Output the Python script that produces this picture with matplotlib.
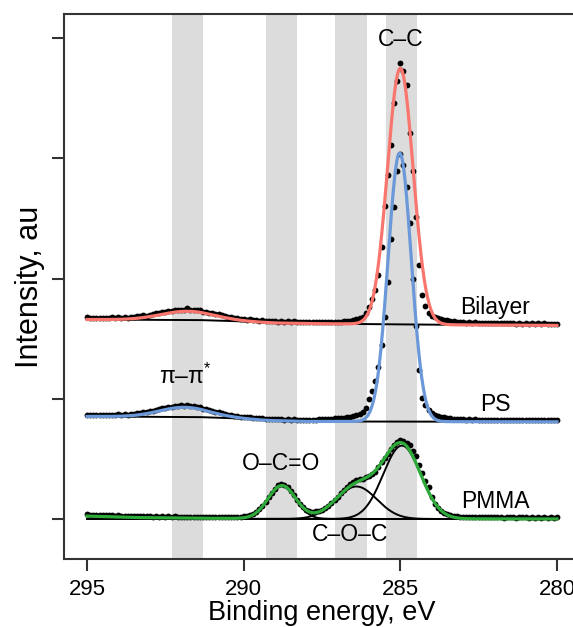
import numpy as np
import matplotlib
matplotlib.use("Agg")
import matplotlib.pyplot as plt

plt.rcParams['font.family'] = ['Liberation Sans', 'DejaVu Sans']
plt.rcParams['mathtext.fontset'] = 'custom'
plt.rcParams['mathtext.rm'] = 'Liberation Sans'

# C1s spectra, read every 0.1 eV from 295.0 down to 280.0 eV
energy = np.linspace(295.0, 280.0, 151)

pmma_counts = [
    .038, .034, .035, .032, .034, .031, .033, .029, .031, .028,
    .029, .025, .027, .024, .026, .023, .025, .022, .024, .021,
    .023, .020, .022, .020, .022, .019, .021, .018, .021, .018,
    .020, .017, .019, .017, .020, .016, .019, .016, .018, .016,
    .018, .015, .018, .016, .018, .015, .017, .016, .018, .019,
    .022, .026, .033, .044, .060, .084, .110, .144, .181, .219,
    .252, .280, .292, .285, .262, .232, .196, .160, .126, .097,
    .078, .066, .062, .063, .068, .077, .092, .110, .132, .158,
    .184, .212, .240, .265, .287, .305, .322, .330, .336, .345,
    .356, .370, .392, .430, .472, .510, .540, .578, .612, .640,
    .655, .650, .632, .612, .566, .520, .452, .385, .318, .262,
    .185, .127, .089, .068, .052, .040, .032, .026, .023, .020,
    .018, .016, .017, .015, .016, .014, .016, .014, .015, .013,
    .015, .013, .015, .012, .014, .013, .015, .012, .014, .013,
    .014, .012, .014, .011, .014, .012, .013, .011, .013, .012, .013]

ps_counts = [
    .060, .056, .059, .055, .060, .056, .058, .055, .059, .057,
    .062, .058, .063, .060, .066, .065, .072, .071, .079, .080,
    .088, .091, .100, .103, .112, .114, .122, .124, .131, .131,
    .136, .133, .137, .129, .130, .122, .120, .110, .107, .097,
    .094, .083, .080, .070, .069, .060, .060, .051, .050, .043,
    .043, .038, .038, .032, .033, .028, .029, .024, .025, .021,
    .023, .020, .022, .019, .021, .018, .020, .017, .019, .016,
    .018, .017, .019, .018, .021, .022, .024, .026, .027, .029,
    .031, .033, .035, .038, .041, .045, .053, .063, .080, .113,
    .190, .260, .340, .460, .640, .870, 1.160, 1.520, 1.790, 2.090,
    2.230, 2.140, 1.950, 1.650, 1.190, .800, .430, .200, .140, .095,
    .072, .060, .050, .043, .038, .033, .029, .026, .024, .022,
    .021, .019, .021, .017, .020, .016, .019, .016, .018, .015,
    .017, .014, .017, .013, .016, .014, .016, .012, .015, .014,
    .016, .013, .015, .012, .015, .013, .015, .012, .014, .013, .014]

bilayer_counts = [
    .064, .059, .062, .058, .063, .059, .062, .058, .064, .060,
    .065, .061, .066, .063, .070, .068, .074, .072, .081, .080,
    .088, .089, .097, .098, .107, .108, .117, .117, .125, .124,
    .130, .127, .140, .126, .130, .123, .122, .113, .113, .103,
    .101, .091, .090, .081, .079, .071, .070, .061, .060, .053,
    .053, .047, .048, .042, .043, .038, .039, .034, .035, .031,
    .033, .030, .032, .029, .032, .028, .031, .027, .030, .027,
    .029, .026, .028, .025, .028, .025, .027, .025, .027, .026,
    .028, .029, .031, .034, .038, .042, .048, .057, .070, .098,
    .150, .220, .290, .420, .650, .990, 1.250, 1.500, 1.850, 2.030,
    2.180, 2.110, 2.000, 1.600, 1.280, .900, .500, .250, .160, .100,
    .080, .065, .056, .050, .046, .041, .037, .033, .030, .027,
    .026, .022, .024, .020, .023, .019, .021, .018, .020, .017,
    .019, .015, .018, .014, .017, .014, .017, .013, .016, .013,
    .015, .012, .015, .011, .014, .012, .014, .011, .013, .011, .013]

# fitted components: centre (eV), height, sigma (eV)
pmma_centres = [288.78, 286.40, 284.95]
pmma_heights = [0.275, 0.27, 0.61]
pmma_sigmas = [0.44, 0.65, 0.60]
ps_centres = [291.90, 285.02]
ps_heights = [0.080, 2.234]
ps_sigmas = [0.80, 0.37]
bilayer_centres = [291.80, 285.00]
bilayer_heights = [0.072, 2.13]
bilayer_sigmas = [0.85, 0.41]

# backgrounds (eV, level)
pmma_bg_e = [295.0, 293.5, 291.5, 289.0, 280.0]
pmma_bg_y = [0.024, 0.012, 0.006, 0.003, 0.0]
ps_bg_e = [295.0, 291.5, 290.4, 289.2, 288.0, 280.0]
ps_bg_y = [0.045, 0.040, 0.031, 0.011, 0.003, 0.0]
bilayer_bg_e = [295.0, 291.5, 290.4, 289.0, 287.5, 285.5, 283.0, 280.0]
bilayer_bg_y = [0.047, 0.043, 0.035, 0.018, 0.012, 0.008, 0.002, -0.002]

offsets = {'PMMA': 0.0, 'PS': 0.808, 'Bilayer': 1.612}
bands = [(292.3, 291.3), (289.3, 288.3), (287.08, 286.06), (285.46, 284.47)]

red = '#F8766D'
blue = '#6A98D8'
green = '#2EAA3A'


def gauss(e, c, h, s):
    return h * np.exp(-(e - c) ** 2 / (2 * s ** 2))


def background(e, be, by):
    return np.interp(e, be[::-1], by[::-1])


fig = plt.figure(figsize=(5.73, 6.27), dpi=100)
ax = fig.add_axes([64 / 573, 68 / 627, (578.7 - 64) / 573, (559 - 14) / 627])

for lo, hi in bands:
    ax.axvspan(lo, hi, color='#dcdcdc', lw=0, zorder=0)

ef = np.linspace(295.0, 280.0, 901)

spectra = [
    ('PMMA', pmma_counts, pmma_centres, pmma_heights, pmma_sigmas, pmma_bg_e, pmma_bg_y, green),
    ('PS', ps_counts, ps_centres, ps_heights, ps_sigmas, ps_bg_e, ps_bg_y, blue),
    ('Bilayer', bilayer_counts, bilayer_centres, bilayer_heights, bilayer_sigmas, bilayer_bg_e, bilayer_bg_y, red),
]

for name, counts, cs, hs, ss, be, by, col in spectra:
    off = offsets[name]
    bg = background(ef, be, by)
    # measured points under the fitted lines
    ax.plot(energy, off + np.array(counts), 'o', color='black', ms=4.2, mew=0, zorder=2)
    if name == 'PMMA':
        ax.plot(ef, np.zeros_like(ef) + off, color='black', lw=1.4, zorder=3)
        for c, h, s in zip(cs, hs, ss):
            ax.plot(ef, off + gauss(ef, c, h, s), color='black', lw=1.4, zorder=3)
    else:
        ax.plot(ef, off + bg, color='black', lw=1.4, zorder=3)
    fit = bg.copy()
    for c, h, s in zip(cs, hs, ss):
        fit += gauss(ef, c, h, s)
    ax.plot(ef, off + fit, color=col, lw=2.3, zorder=4)

ts = 16.5
ax.text(285.0, 3.99, 'C–C', ha='center', va='center', fontsize=ts)
ax.text(281.98, 1.755, 'Bilayer', ha='center', va='center', fontsize=ts)
ax.text(281.98, 0.948, 'PS', ha='center', va='center', fontsize=ts)
ax.text(281.98, 0.144, 'PMMA', ha='center', va='center', fontsize=ts)
ax.text(291.87, 1.184, r'π–π$^{*}$', ha='center', va='center', fontsize=ts)
ax.text(288.79, 0.463, 'O–C=O', ha='center', va='center', fontsize=ts)
ax.text(286.6, -0.133, 'C–O–C', ha='center', va='center', fontsize=ts)

ax.set_xlim(295.734, 279.306)
ax.set_ylim(-0.333, 4.2)
ax.set_xticks([295, 290, 285, 280])
ax.set_yticks([0, 1, 2, 3, 4])
ax.set_yticklabels([])
for sp in ax.spines.values():
    sp.set_color('#333333')
    sp.set_linewidth(1.5)
ax.tick_params(axis='both', direction='out', length=8.5, width=1.5, color='#333333')
ax.tick_params(axis='x', labelsize=16, pad=6)
ax.set_xlabel('Binding energy, eV', fontsize=19.5, labelpad=0)
ax.set_ylabel('Intensity, au', fontsize=22, labelpad=2)

fig.savefig('out.png', dpi=100)
